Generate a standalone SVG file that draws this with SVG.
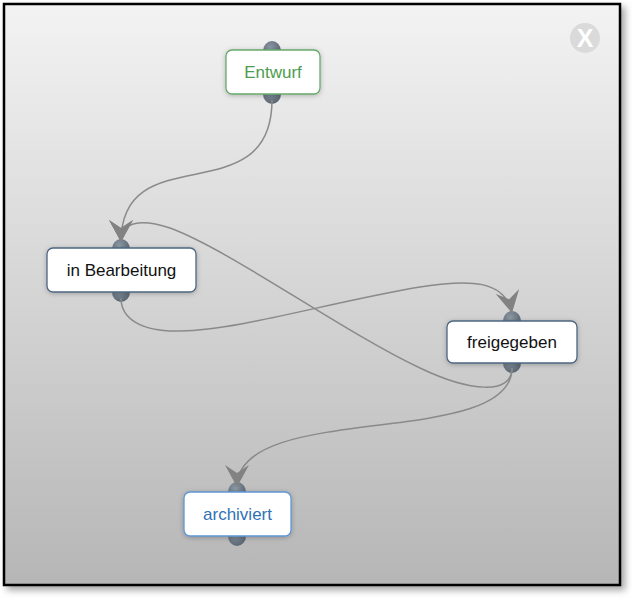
<svg xmlns="http://www.w3.org/2000/svg" width="635" height="600" viewBox="0 0 635 600">
  <defs>
    <linearGradient id="bg" x1="0" y1="0" x2="0" y2="1">
      <stop offset="0" stop-color="#f3f3f3"/>
      <stop offset="1" stop-color="#b6b6b6"/>
    </linearGradient>
    <radialGradient id="portg" cx="0.4" cy="0.35" r="0.7">
      <stop offset="0" stop-color="#8e9aa6"/>
      <stop offset="1" stop-color="#56636f"/>
    </radialGradient>
    <filter id="frameShadow" x="-5%" y="-5%" width="112%" height="112%">
      <feDropShadow dx="4" dy="4" stdDeviation="3.5" flood-color="#000" flood-opacity="0.35"/>
    </filter>
    <filter id="nodeShadow" x="-20%" y="-30%" width="140%" height="160%">
      <feDropShadow dx="0" dy="1" stdDeviation="2.5" flood-color="#000" flood-opacity="0.25"/>
    </filter>
    <marker id="arrow" markerUnits="userSpaceOnUse" markerWidth="22" markerHeight="24" viewBox="0 0 22 24" refX="22" refY="12" orient="auto">
      <path d="M22,12 L0,0 L8,12 L0,24 Z" fill="#828282"/>
    </marker>
  </defs>
  <style>
    .node rect { fill: #ffffff; stroke-width: 1.3; }
    .node text { font-family: "Liberation Sans", Arial, sans-serif; font-size: 17px; text-anchor: middle; }
    .plain rect { stroke: #4d6680; }
    .plain text { fill: #111111; }
    .port { fill: url(#portg); }
    .edge { fill: none; stroke: #8a8a8a; stroke-width: 1.5; marker-end: url(#arrow); }
  </style>

  <rect x="4" y="4" width="616" height="581" fill="url(#bg)" stroke="#000" stroke-width="2.5" filter="url(#frameShadow)"/>

  <g id="close-button">
    <circle cx="585" cy="38" r="15" fill="#dadada"/>
    <text x="585" y="47" font-family="Liberation Sans, Arial, sans-serif" font-size="25" font-weight="bold" fill="#ffffff" text-anchor="middle">X</text>
  </g>

  <g id="ports">
    <ellipse class="port" cx="272" cy="51" rx="9" ry="10"/>
    <ellipse class="port" cx="272" cy="94" rx="9" ry="10"/>
    <ellipse class="port" cx="121" cy="249" rx="9" ry="10"/>
    <ellipse class="port" cx="121" cy="292" rx="9" ry="10"/>
    <ellipse class="port" cx="512" cy="321" rx="9" ry="10"/>
    <ellipse class="port" cx="512" cy="363" rx="9" ry="10"/>
    <ellipse class="port" cx="237" cy="492" rx="9" ry="10"/>
    <ellipse class="port" cx="237" cy="536" rx="9" ry="10"/>
  </g>

  <g id="node-entwurf" class="node">
    <rect x="226" y="50" width="94" height="44" rx="6" stroke="#67a96b" filter="url(#nodeShadow)"/>
    <text x="273" y="78" fill="#4d9c50">Entwurf</text>
  </g>
  <g id="node-in-bearbeitung" class="node plain">
    <rect x="47" y="248" width="149" height="44" rx="6" filter="url(#nodeShadow)"/>
    <text x="121.5" y="276">in Bearbeitung</text>
  </g>
  <g id="node-freigegeben" class="node plain">
    <rect x="447" y="321" width="130" height="42" rx="6" filter="url(#nodeShadow)"/>
    <text x="512" y="348">freigegeben</text>
  </g>
  <g id="node-archiviert" class="node">
    <rect x="184" y="492" width="107" height="44" rx="6" stroke="#5f95d2" filter="url(#nodeShadow)"/>
    <text x="237.5" y="520" fill="#2f72b6">archiviert</text>
  </g>

  <g id="connectors">
    <path class="edge" d="M272,100 C272,215 121,135 121,242"/>
    <path class="edge" d="M121,298 C121,318 140,332 180,331 C240,330 330,302 420,287 C470,279 505,280 512,313"/>
    <path class="edge" d="M512,368 C512,395 470,392 420,368 C340,330 230,250 170,228 C140,218 121,222 121,242"/>
    <path class="edge" d="M512,368 C512,450 237,400 237,487"/>
  </g>
</svg>
